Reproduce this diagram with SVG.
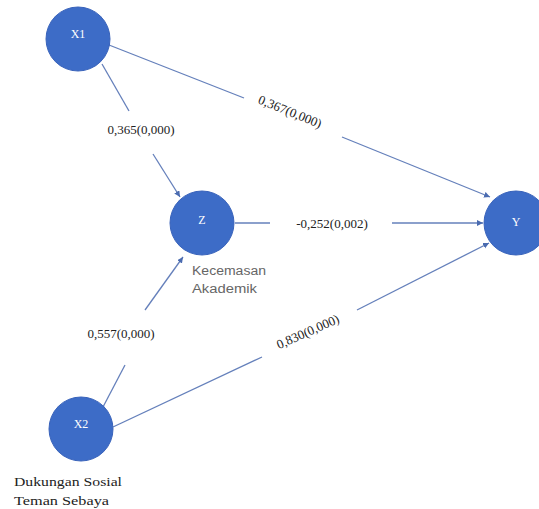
<svg xmlns="http://www.w3.org/2000/svg" width="539" height="509" viewBox="0 0 539 509">
<style>
.node{fill:#3d6cc7;stroke:#3963bb;stroke-width:1}
.nt{font-family:"Liberation Serif",serif;font-size:12px;fill:#ffffff;text-anchor:middle}
.edge{stroke:#6580bb;stroke-width:1.3;fill:none}
.lbl{font-family:"Liberation Serif",serif;font-size:13px;fill:#222;text-anchor:middle}
.cap{font-family:"Liberation Sans",sans-serif;font-size:12.5px;fill:#666}
.cap2{font-family:"Liberation Serif",serif;font-size:13.5px;fill:#222}
</style>
<defs>
<marker id="ar" markerWidth="8" markerHeight="8" refX="6" refY="3" orient="auto" markerUnits="userSpaceOnUse">
<path d="M0,0 L6,3 L0,6 z" fill="#4a6bb0"/>
</marker>
</defs>
<rect width="539" height="509" fill="#ffffff"/>
<g id="connectors">
<line class="edge" x1="109" y1="45" x2="244" y2="98"/>
<line class="edge" x1="342" y1="137" x2="490" y2="197" marker-end="url(#ar)"/>
<text class="lbl" x="290" y="116" transform="rotate(22 290 112)">0,367(0,000)</text>
<line class="edge" x1="102" y1="64" x2="129" y2="111"/>
<line class="edge" x1="153" y1="154" x2="180" y2="197" marker-end="url(#ar)"/>
<text class="lbl" x="141" y="134">0,365(0,000)</text>
<line class="edge" x1="235" y1="223" x2="270" y2="223"/>
<line class="edge" x1="392" y1="223" x2="483" y2="223" marker-end="url(#ar)"/>
<text class="lbl" x="332" y="228">-0,252(0,002)</text>
<line class="edge" x1="103" y1="407" x2="125" y2="365"/>
<line class="edge" x1="145" y1="310" x2="183" y2="257" marker-end="url(#ar)"/>
<text class="lbl" x="121" y="338">0,557(0,000)</text>
<line class="edge" x1="113" y1="427" x2="262" y2="357"/>
<line class="edge" x1="357" y1="310" x2="489" y2="243" marker-end="url(#ar)"/>
<text class="lbl" x="308" y="336" transform="rotate(-24 308 332)">0,830(0,000)</text>
</g>
<g id="X1">
<circle class="node" cx="78" cy="39" r="32"/>
<text class="nt" x="78" y="38">X1</text>
</g>
<g id="Z">
<circle class="node" cx="202" cy="223" r="32"/>
<text class="nt" x="202" y="224">Z</text>
<text class="cap" x="192" y="275" textLength="74" lengthAdjust="spacingAndGlyphs">Kecemasan</text>
<text class="cap" x="192" y="293" textLength="65" lengthAdjust="spacingAndGlyphs">Akademik</text>
</g>
<g id="Y">
<circle class="node" cx="516" cy="223" r="32"/>
<text class="nt" x="516" y="226">Y</text>
</g>
<g id="X2">
<circle class="node" cx="81" cy="429" r="32"/>
<text class="nt" x="81" y="428">X2</text>
<text class="cap2" x="14" y="486" textLength="108" lengthAdjust="spacingAndGlyphs">Dukungan Sosial</text>
<text class="cap2" x="14" y="505" textLength="95" lengthAdjust="spacingAndGlyphs">Teman Sebaya</text>
</g>
</svg>
